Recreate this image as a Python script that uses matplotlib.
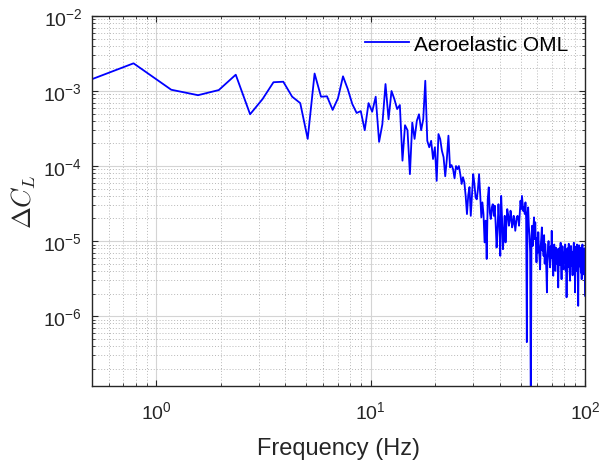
import numpy as np
import matplotlib
matplotlib.use("Agg")
import matplotlib.pyplot as plt
from matplotlib.ticker import LogLocator, NullFormatter

plt.rcParams['font.family'] = ['Liberation Sans', 'DejaVu Sans']
plt.rcParams['mathtext.fontset'] = 'cm'

# frequency resolution of the spectrum (Hz) and number of bins
df = 0.390625
n_bins = 256

# Delta C_L amplitude, bins 1-50
dcl_low = [
    1.1e-3, 2.34e-3, 1.04e-3, 8.8e-4, 1.03e-3, 1.65e-3, 4.9e-4, 7.8e-4, 1.31e-3, 1.33e-3,
    8.4e-4, 6.9e-4, 2.3e-4, 1.71e-3, 8.4e-4, 8.5e-4, 5.6e-4, 8.0e-4, 1.57e-3, 1.06e-3,
    6.7e-4, 5.1e-4, 5.4e-4, 3.0e-4, 6.9e-4, 5.3e-4, 8.4e-4, 2.1e-4, 3.6e-4, 1.24e-3,
    4.2e-4, 1.0e-3, 7.8e-4, 5.75e-4, 6.5e-4, 1.18e-4, 3.5e-4, 3.0e-4, 7.8e-5, 3.8e-4,
    2.3e-4, 4.0e-4, 4.9e-4, 3.0e-4, 4.2e-4, 1.37e-3, 2.17e-4, 1.78e-4, 2.17e-4, 1.24e-4,
]
# bins 51-150
dcl_mid = [
    1.78e-4, 6.35e-5, 2.67e-4, 2.29e-4, 1.6e-4, 1.31e-4, 7.3e-5, 1.24e-4, 2.54e-4, 9.6e-5,
    1.03e-4, 9.1e-5, 6.85e-5, 1.0e-4, 9.1e-5, 1.0e-4, 7.8e-5, 5.77e-5, 7.1e-5, 6.06e-5,
    4.0e-5, 2.29e-5, 4.1e-5, 5.25e-5, 2.17e-5, 4.2e-5, 7.8e-5, 5.8e-5, 3.8e-5, 3.6e-5,
    4.9e-5, 7.8e-5, 4.2e-5, 2.07e-5, 3.28e-5, 2.29e-5, 9.6e-6, 1.87e-5, 5.77e-6, 3.6e-5,
    5.2e-5, 2.41e-5, 1.97e-5, 2.81e-5, 3.1e-5, 2.17e-5, 2.96e-5, 1.69e-5, 8.2e-6, 1.45e-5,
    3.1e-5, 1.69e-5, 6.35e-6, 4.0e-5, 1.97e-5, 7.8e-6, 1.24e-5, 2.17e-5, 9.6e-6, 1.69e-5,
    2.67e-5, 2.29e-5, 1.6e-5, 1.85e-5, 2.54e-5, 2.09e-5, 1.52e-5, 1.69e-5, 2.17e-5, 1.85e-5,
    1.37e-5, 1.69e-5, 2.09e-5, 2.17e-5, 1.97e-5, 1.6e-5, 2.29e-5, 3.45e-5, 2.67e-5, 4.0e-5,
    3.1e-5, 2.5e-5, 2.81e-5, 2.29e-5, 3.28e-5, 1.97e-5, 4.5e-7, 2.29e-5, 2.81e-5, 1.6e-5,
    1.18e-5, 7.06e-6, 4.0e-8, 1.06e-5, 1.6e-5, 8.6e-6, 1.45e-5, 2.07e-5, 1.06e-5, 1.78e-5,
]
# bins 151-256
dcl_high = [
    9.5e-6, 5.2e-6, 1.1e-5, 7.0e-6, 1.31e-5, 8.0e-6, 6.0e-6, 4.2e-6, 8.5e-6, 1.1e-5,
    1.52e-5, 7.5e-6, 9.8e-6, 6.35e-6, 1.2e-5, 5.0e-6, 9.1e-6, 6.5e-6, 4.0e-6, 2.07e-6,
    6.0e-6, 8.0e-6, 1.0e-5, 6.8e-6, 5.5e-6, 4.46e-6, 8.5e-6, 6.0e-6, 1.37e-5, 7.0e-6,
    5.2e-6, 3.45e-6, 7.5e-6, 9.0e-6, 6.06e-6, 4.0e-6, 8.2e-6, 5.0e-6, 5.47e-6, 7.8e-6,
    4.5e-6, 2.41e-6, 5.5e-6, 8.0e-6, 4.8e-6, 6.35e-6, 9.5e-6, 5.0e-6, 3.1e-6, 6.5e-6,
    8.5e-6, 5.8e-6, 4.2e-6, 7.0e-6, 5.2e-6, 7.4e-6, 9.0e-6, 4.0e-6, 6.0e-6, 1.78e-6,
    5.5e-6, 8.0e-6, 4.5e-6, 6.35e-6, 9.2e-6, 5.0e-6, 3.8e-6, 2.96e-6, 6.5e-6, 8.6e-6,
    5.5e-6, 4.69e-6, 7.2e-6, 3.5e-6, 6.0e-6, 7.8e-6, 9.5e-6, 4.5e-6, 5.8e-6, 2.07e-6,
    5.0e-6, 8.4e-6, 4.0e-6, 7.06e-6, 9.0e-6, 5.2e-6, 3.5e-6, 1.37e-6, 5.5e-6, 8.8e-6,
    4.6e-6, 6.5e-6, 8.2e-6, 5.0e-6, 3.8e-6, 7.0e-6, 3.1e-6, 5.8e-6, 9.0e-6, 4.2e-6,
    6.35e-6, 3.6e-6, 7.5e-6, 4.8e-6, 8.0e-6, 1.87e-6,
]

series_label = "Aeroelastic OML"
x_label = "Frequency (Hz)"
y_label = r"$\Delta C_L$"

freq = df * np.arange(1, n_bins + 1)
dcl = np.array(dcl_low + dcl_mid + dcl_high)

dark = (0.15, 0.15, 0.15)

fig = plt.figure(figsize=(6.13, 4.64), dpi=100)
ax = fig.add_axes([92 / 613, 1 - 387 / 464, (585 - 92) / 613, (387 - 17) / 464])

ax.loglog(freq, dcl, color=(0, 0, 1), lw=1.3, label=series_label)

ax.set_xlim(0.5, 100)
ax.set_ylim(1.17e-7, 1e-2)

ax.xaxis.set_major_locator(LogLocator(base=10, numticks=10))
ax.yaxis.set_major_locator(LogLocator(base=10, numticks=10))
ax.xaxis.set_minor_locator(LogLocator(base=10, subs=np.arange(2, 10), numticks=20))
ax.yaxis.set_minor_locator(LogLocator(base=10, subs=np.arange(2, 10), numticks=20))
ax.xaxis.set_minor_formatter(NullFormatter())
ax.yaxis.set_minor_formatter(NullFormatter())

ax.grid(True, which='major', color=(0.83, 0.83, 0.83), lw=0.8, ls='-')
ax.grid(True, which='minor', color=(0.72, 0.72, 0.72), lw=0.7, ls=(0, (1, 2)))
ax.set_axisbelow(True)

for sp in ax.spines.values():
    sp.set_color(dark)
    sp.set_linewidth(1.0)

ax.tick_params(which='both', direction='in', top=True, right=True, colors=dark,
               labelsize=14)
ax.tick_params(axis='x', which='both', pad=10)
ax.tick_params(axis='y', which='both', pad=7)
ax.tick_params(which='major', length=4, width=0.8)
ax.tick_params(which='minor', length=2.5, width=0.6)

ax.set_xlabel(x_label, fontsize=17, color=dark, labelpad=11)
ax.set_ylabel(y_label, fontsize=19, color=dark, labelpad=4)

leg = ax.legend(loc='center right', bbox_to_anchor=(0.966, 0.924), frameon=False,
                fontsize=15, handlelength=2.1, handletextpad=0.25, borderpad=0,
                borderaxespad=0)
for t in leg.get_texts():
    t.set_color('black')

fig.savefig("out.png", dpi=100)
